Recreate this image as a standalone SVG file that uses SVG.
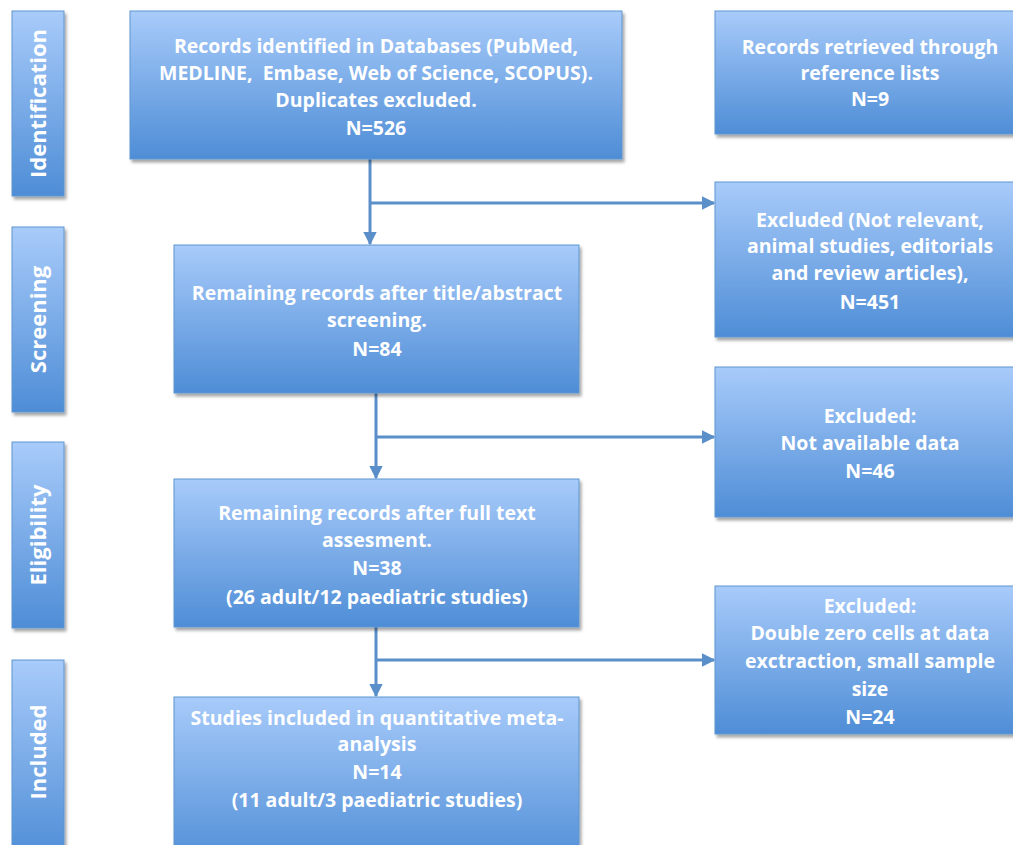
<svg xmlns="http://www.w3.org/2000/svg" width="1013" height="845" viewBox="0 0 1013 845">
<defs>
<linearGradient id="g" x1="0" y1="0" x2="0" y2="1">
<stop offset="0" stop-color="#a8cbfa"/>
<stop offset="1" stop-color="#4e8dd6"/>
</linearGradient>
<filter id="sh" x="-10%" y="-10%" width="130%" height="130%">
<feDropShadow dx="2" dy="3" stdDeviation="1.5" flood-color="#000" flood-opacity="0.35"/>
</filter>
<marker id="ah" viewBox="0 0 10 10" refX="9" refY="5" markerWidth="4.5" markerHeight="4.5" orient="auto" markerUnits="strokeWidth">
<path d="M0,0 L10,5 L0,10 z" fill="#5b8fc9"/>
</marker>
<style>
.box{fill:url(#g);stroke:#5f95cf;stroke-width:1;filter:url(#sh)}
.t{font-family:"Open Sans","Liberation Sans",sans-serif;font-weight:bold;font-size:19.5px;fill:#fff;text-anchor:middle}
.s{font-family:"Open Sans","Liberation Sans",sans-serif;font-weight:bold;font-size:22px;fill:#fff;text-anchor:middle}
.c{stroke:#5b8fc9;stroke-width:3;fill:none}
</style>
</defs>
<rect width="1013" height="845" fill="#fff"/>

<g id="stage-identification">
<rect class="box" x="12" y="11" width="52" height="185"/>
<text class="s" transform="translate(46,103.5) rotate(-90)">Identification</text>
</g>
<g id="stage-screening">
<rect class="box" x="12" y="227" width="52" height="185"/>
<text class="s" transform="translate(46,319.5) rotate(-90)">Screening</text>
</g>
<g id="stage-eligibility">
<rect class="box" x="12" y="442" width="52" height="186"/>
<text class="s" transform="translate(46,535) rotate(-90)">Eligibility</text>
</g>
<g id="stage-included">
<rect class="box" x="12" y="660" width="52" height="200"/>
<text class="s" transform="translate(46,752) rotate(-90)">Included</text>
</g>

<g id="connectors">
<line class="c" x1="370" y1="159" x2="370" y2="244" marker-end="url(#ah)"/>
<line class="c" x1="370" y1="203" x2="714" y2="203" marker-end="url(#ah)"/>
<line class="c" x1="376" y1="393" x2="376" y2="478" marker-end="url(#ah)"/>
<line class="c" x1="376" y1="437" x2="714" y2="437" marker-end="url(#ah)"/>
<line class="c" x1="376" y1="627" x2="376" y2="696" marker-end="url(#ah)"/>
<line class="c" x1="376" y1="660" x2="714" y2="660" marker-end="url(#ah)"/>
</g>

<g id="records-identified">
<rect class="box" x="130" y="11" width="492" height="148"/>
<text class="t" x="376" y="53">Records identified in Databases (PubMed,</text>
<text class="t" x="376" y="80" xml:space="preserve">MEDLINE,  Embase, Web of Science, SCOPUS).</text>
<text class="t" x="376" y="107">Duplicates excluded.</text>
<text class="t" x="376" y="135">N=526</text>
</g>
<g id="records-retrieved">
<rect class="box" x="715" y="11" width="312" height="123"/>
<text class="t" x="870" y="54">Records retrieved through</text>
<text class="t" x="870" y="80">reference lists</text>
<text class="t" x="870" y="106">N=9</text>
</g>
<g id="excluded-451">
<rect class="box" x="715" y="182" width="312" height="155"/>
<text class="t" x="870" y="227">Excluded (Not relevant,</text>
<text class="t" x="870" y="253">animal studies, editorials</text>
<text class="t" x="870" y="280">and review articles),</text>
<text class="t" x="870" y="309">N=451</text>
</g>
<g id="remaining-title-abstract">
<rect class="box" x="174" y="245" width="405" height="148"/>
<text class="t" x="377" y="300">Remaining records after title/abstract</text>
<text class="t" x="377" y="327">screening.</text>
<text class="t" x="377" y="356">N=84</text>
</g>
<g id="excluded-46">
<rect class="box" x="715" y="367" width="312" height="150"/>
<text class="t" x="870" y="423">Excluded:</text>
<text class="t" x="870" y="450">Not available data</text>
<text class="t" x="870" y="478">N=46</text>
</g>
<g id="remaining-full-text">
<rect class="box" x="174" y="479" width="405" height="148"/>
<text class="t" x="377" y="520">Remaining records after full text</text>
<text class="t" x="377" y="547">assesment.</text>
<text class="t" x="377" y="575">N=38</text>
<text class="t" x="377" y="604">(26 adult/12 paediatric studies)</text>
</g>
<g id="excluded-24">
<rect class="box" x="715" y="586" width="312" height="148"/>
<text class="t" x="870" y="613">Excluded:</text>
<text class="t" x="870" y="640">Double zero cells at data</text>
<text class="t" x="870" y="668">exctraction, small sample</text>
<text class="t" x="870" y="696">size</text>
<text class="t" x="870" y="724">N=24</text>
</g>
<g id="studies-included">
<rect class="box" x="174" y="697" width="405" height="170"/>
<text class="t" x="377" y="725">Studies included in quantitative meta-</text>
<text class="t" x="377" y="751">analysis</text>
<text class="t" x="377" y="779">N=14</text>
<text class="t" x="377" y="807">(11 adult/3 paediatric studies)</text>
</g>
</svg>
